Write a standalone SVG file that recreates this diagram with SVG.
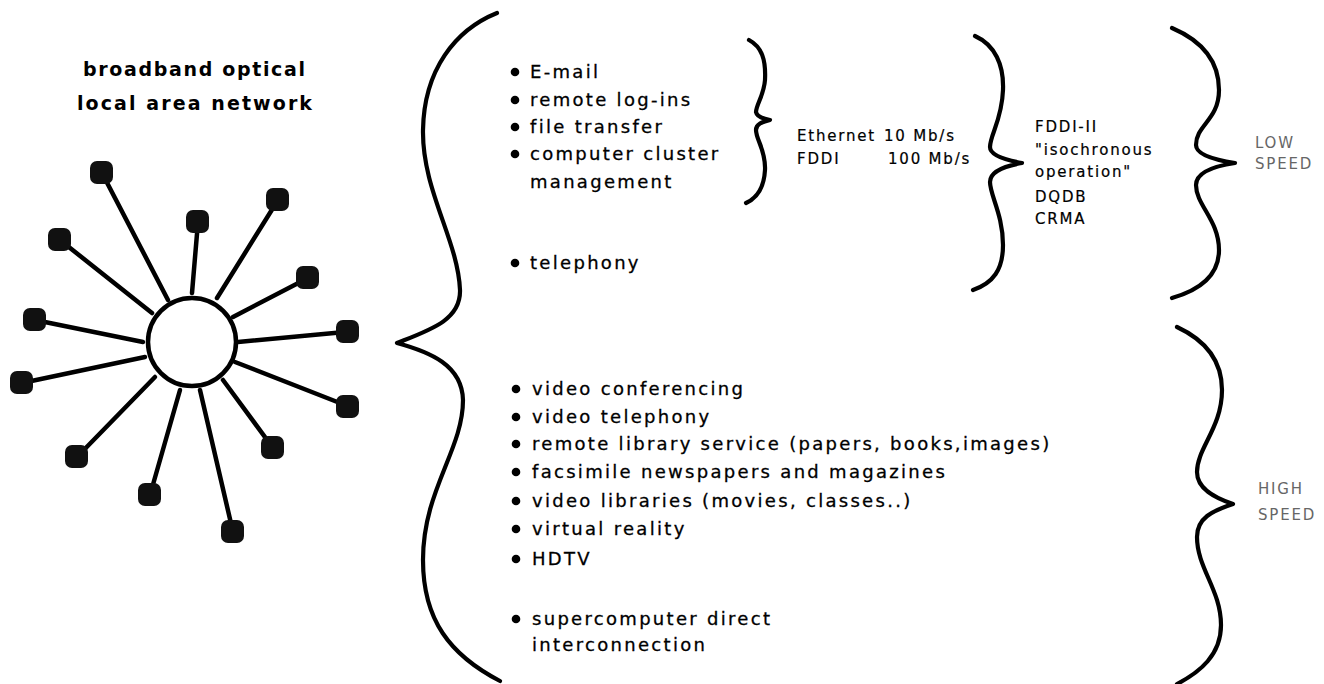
<svg xmlns="http://www.w3.org/2000/svg" width="1324" height="684" viewBox="0 0 1324 684">
  <style>
    .title { font-family: "DejaVu Sans", "Liberation Sans", sans-serif; font-weight: bold; font-size: 19px; fill: #000; }
    .item { font-family: "DejaVu Sans", "Liberation Sans", sans-serif; font-size: 18px; letter-spacing: 2.3px; fill: #000; stroke: #000; stroke-width: 0.3; }
    .small { font-family: "DejaVu Sans", "Liberation Sans", sans-serif; font-size: 15px; letter-spacing: 1.8px; fill: #000; stroke: #000; stroke-width: 0.2; }
    .faint { font-family: "DejaVu Sans", "Liberation Sans", sans-serif; font-size: 15px; letter-spacing: 1.8px; fill: #666; }
    .spoke { stroke: #000; stroke-width: 4.5; stroke-linecap: round; fill: none; }
    .brace { stroke: #000; stroke-width: 4.2; stroke-linecap: round; stroke-linejoin: round; fill: none; }
    .term { fill: #111; }
    .hub { fill: #fff; stroke: #000; stroke-width: 4.5; }
    .dot { fill: #000; }
  </style>

  <!-- title -->
  <g id="title">
    <text class="title" x="83" y="76" textLength="222" lengthAdjust="spacing">broadband optical</text>
    <text class="title" x="77" y="110" textLength="235" lengthAdjust="spacing">local area network</text>
  </g>

  <!-- star network: spokes -->
  <g id="connectors">
    <line class="spoke" x1="168" y1="300" x2="102" y2="173"/>
    <line class="spoke" x1="152" y1="313" x2="60" y2="240"/>
    <line class="spoke" x1="192" y1="293" x2="198" y2="222"/>
    <line class="spoke" x1="217" y1="298" x2="278" y2="200"/>
    <line class="spoke" x1="233" y1="317" x2="308" y2="278"/>
    <line class="spoke" x1="238" y1="342" x2="345" y2="332"/>
    <line class="spoke" x1="235" y1="362" x2="345" y2="405"/>
    <line class="spoke" x1="223" y1="380" x2="273" y2="448"/>
    <line class="spoke" x1="200" y1="390" x2="233" y2="532"/>
    <line class="spoke" x1="180" y1="390" x2="150" y2="495"/>
    <line class="spoke" x1="155" y1="377" x2="77" y2="457"/>
    <line class="spoke" x1="145" y1="357" x2="22" y2="383"/>
    <line class="spoke" x1="143" y1="342" x2="35" y2="320"/>
  </g>

  <!-- hub -->
  <g id="hub">
    <circle class="hub" cx="192" cy="342" r="44"/>
  </g>

  <!-- terminals -->
  <g id="t1"><rect class="term" x="90" y="161" width="23" height="23" rx="7"/></g>
  <g id="t2"><rect class="term" x="48" y="228" width="23" height="23" rx="7"/></g>
  <g id="t3"><rect class="term" x="186" y="210" width="23" height="23" rx="7"/></g>
  <g id="t4"><rect class="term" x="266" y="188" width="23" height="23" rx="7"/></g>
  <g id="t5"><rect class="term" x="296" y="266" width="23" height="23" rx="7"/></g>
  <g id="t6"><rect class="term" x="336" y="320" width="23" height="23" rx="7"/></g>
  <g id="t7"><rect class="term" x="336" y="395" width="23" height="23" rx="7"/></g>
  <g id="t8"><rect class="term" x="261" y="436" width="23" height="23" rx="7"/></g>
  <g id="t9"><rect class="term" x="221" y="520" width="23" height="23" rx="7"/></g>
  <g id="t10"><rect class="term" x="138" y="483" width="23" height="23" rx="7"/></g>
  <g id="t11"><rect class="term" x="65" y="445" width="23" height="23" rx="7"/></g>
  <g id="t12"><rect class="term" x="10" y="371" width="23" height="23" rx="7"/></g>
  <g id="t13"><rect class="term" x="23" y="308" width="23" height="23" rx="7"/></g>

  <!-- braces -->
  <g id="braces">
    <path id="brace-main" class="brace" d="M497,13 C455,30 424,70 423,130 C422,190 458,240 460,290 C461,320 430,330 397,343 C430,352 462,365 463,400 C463,450 423,490 423,560 C423,620 450,655 500,681"/>
    <path id="brace-data" class="brace" d="M749,40 C762,47 766,60 765,80 C764,95 756,105 756,112 C757,117 764,119 770,120 C762,122 756,124 756,130 C756,140 766,150 765,170 C764,188 757,198 746,203"/>
    <path id="brace-lan" class="brace" d="M975,36 C995,45 1004,65 1003,90 C1002,120 990,135 990,147 C990,155 1005,160 1022,163 C1005,166 990,172 990,182 C990,195 1003,215 1003,245 C1003,270 993,283 973,290"/>
    <path id="brace-low" class="brace" d="M1172,28 C1200,40 1219,60 1219,90 C1219,120 1196,125 1196,145 C1196,155 1215,160 1235,163 C1215,166 1196,172 1196,185 C1196,205 1219,220 1219,250 C1219,275 1200,290 1172,298"/>
    <path id="brace-high" class="brace" d="M1177,327 C1205,340 1222,360 1222,390 C1222,428 1197,448 1197,472 C1197,489 1215,498 1233,504 C1212,511 1197,518 1197,537 C1197,568 1221,590 1221,625 C1221,655 1200,672 1177,684"/>
  </g>

  <!-- low speed applications -->
  <g id="low-apps">
    <circle class="dot" cx="515" cy="72" r="4.3"/>
    <text class="item" x="530" y="78">E-mail</text>
    <circle class="dot" cx="515" cy="100" r="4.3"/>
    <text class="item" x="530" y="106">remote log-ins</text>
    <circle class="dot" cx="515" cy="127" r="4.3"/>
    <text class="item" x="530" y="133">file transfer</text>
    <circle class="dot" cx="515" cy="154" r="4.3"/>
    <text class="item" x="530" y="160">computer cluster</text>
    <text class="item" x="530" y="188">management</text>
    <circle class="dot" cx="515" cy="263" r="4.3"/>
    <text class="item" x="530" y="269">telephony</text>
  </g>

  <!-- high speed applications -->
  <g id="high-apps">
    <circle class="dot" cx="516" cy="389" r="4.3"/>
    <text class="item" x="532" y="395">video conferencing</text>
    <circle class="dot" cx="516" cy="417" r="4.3"/>
    <text class="item" x="532" y="423">video telephony</text>
    <circle class="dot" cx="516" cy="444" r="4.3"/>
    <text class="item" x="532" y="450">remote library service (papers, books,images)</text>
    <circle class="dot" cx="516" cy="472" r="4.3"/>
    <text class="item" x="532" y="478">facsimile newspapers and magazines</text>
    <circle class="dot" cx="516" cy="501" r="4.3"/>
    <text class="item" x="532" y="507">video libraries (movies, classes..)</text>
    <circle class="dot" cx="516" cy="529" r="4.3"/>
    <text class="item" x="532" y="535">virtual reality</text>
    <circle class="dot" cx="516" cy="559" r="4.3"/>
    <text class="item" x="532" y="565">HDTV</text>
    <circle class="dot" cx="516" cy="619" r="4.3"/>
    <text class="item" x="532" y="625">supercomputer direct</text>
    <text class="item" x="532" y="651">interconnection</text>
  </g>

  <!-- networks -->
  <g id="lans">
    <text class="small" x="797" y="141">Ethernet <tspan x="884">10 Mb/s</tspan></text>
    <text class="small" x="797" y="164">FDDI <tspan x="888">100 Mb/s</tspan></text>
  </g>
  <g id="isochronous">
    <text class="small" x="1035" y="132">FDDI-II</text>
    <text class="small" x="1035" y="155">"isochronous</text>
    <text class="small" x="1035" y="177">operation"</text>
    <text class="small" x="1035" y="202">DQDB</text>
    <text class="small" x="1035" y="224">CRMA</text>
  </g>

  <!-- speed classes -->
  <g id="low-speed">
    <text class="faint" x="1255" y="148">LOW</text>
    <text class="faint" x="1255" y="169">SPEED</text>
  </g>
  <g id="high-speed">
    <text class="faint" x="1258" y="494">HIGH</text>
    <text class="faint" x="1258" y="520">SPEED</text>
  </g>
</svg>
